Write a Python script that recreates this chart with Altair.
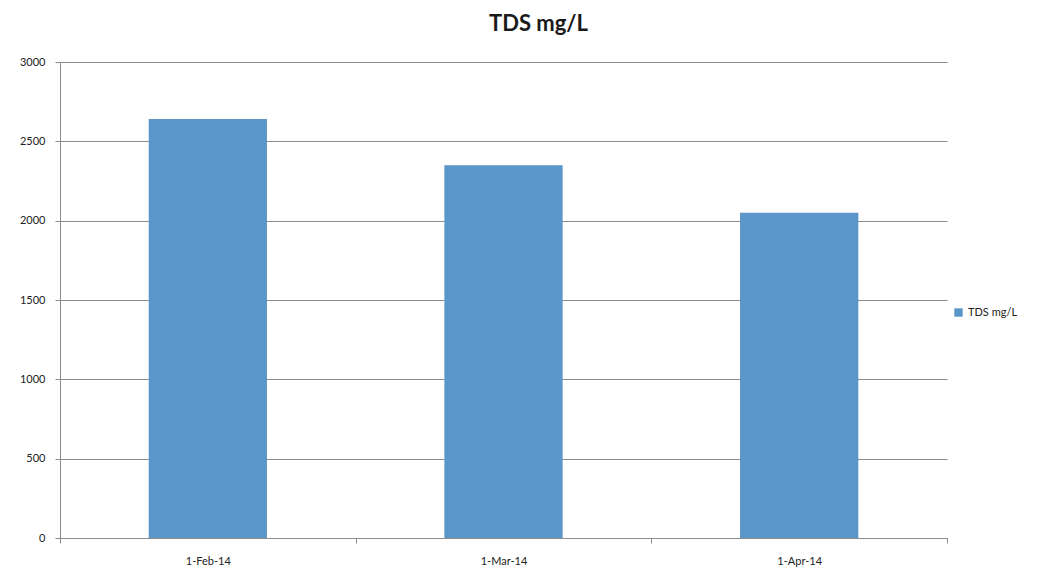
import altair as alt
import pandas as pd

dates = ["1-Feb-14", "1-Mar-14", "1-Apr-14"]
tds = [2640, 2350, 2050]
series = ["TDS mg/L"] * 3

df = pd.DataFrame({"date": dates, "tds": tds, "series": series})

grey = "#8c8c8c"
chart = alt.Chart(df).mark_bar(color="#5B96C8", width=alt.RelativeBandSize(0.4)).encode(
    x=alt.X("date:N", sort=dates, title=None,
            scale=alt.Scale(paddingInner=0, paddingOuter=0),
            axis=alt.Axis(labelAngle=0, tickBand="extent", labelPadding=12,
                          labelFontSize=11, labelColor="#222222", labelFont="Lato",
                          domainColor=grey, tickColor=grey, tickSize=5, grid=False)),
    y=alt.Y("tds:Q", title=None,
            scale=alt.Scale(domain=[0, 3000]),
            axis=alt.Axis(values=[0, 500, 1000, 1500, 2000, 2500, 3000], format="d",
                          labelPadding=10,
                          labelFontSize=11, labelColor="#222222", labelFont="Lato",
                          domainColor=grey, tickColor=grey, tickSize=5,
                          gridColor=grey, gridWidth=1)),
    fill=alt.Fill("series:N", scale=alt.Scale(range=["#5B96C8"]),
                  legend=alt.Legend(title=None, orient="none", legendX=893, legendY=245,
                                    symbolType="square", symbolSize=70, labelFontSize=11,
                                    labelFont="Lato", labelColor="#222222", symbolStrokeWidth=0)),
).properties(
    width=887, height=476,
    padding={"left": 52, "top": 54, "right": 108, "bottom": 30},
    autosize="none",
    title=alt.TitleParams("TDS mg/L", fontSize=22, font="Lato", fontWeight="bold",
                          color="#1a1a1a", anchor="middle", dx=35, offset=20),
).configure_view(stroke=None)

chart.save("out.html", embed_options={"renderer": "svg", "actions": False})
